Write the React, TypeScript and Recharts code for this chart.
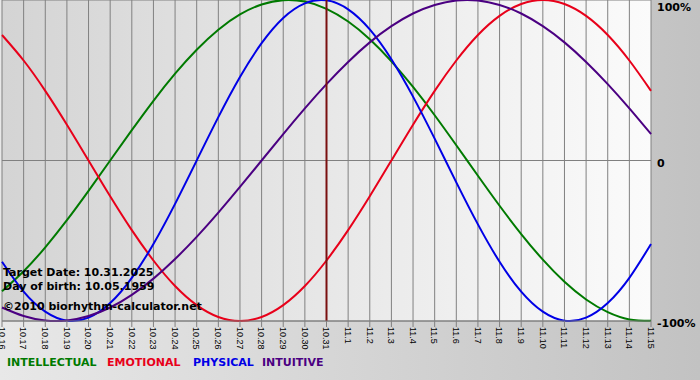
import React from 'react';
import { LineChart, Line, XAxis, YAxis, CartesianGrid, ReferenceLine } from 'recharts';

// days shown on the x axis (month.day)
const days = [
  '10.16', '10.17', '10.18', '10.19', '10.20', '10.21', '10.22', '10.23', '10.24', '10.25',
  '10.26', '10.27', '10.28', '10.29', '10.30', '10.31', '11.1', '11.2', '11.3', '11.4',
  '11.5', '11.6', '11.7', '11.8', '11.9', '11.10', '11.11', '11.12', '11.13', '11.14', '11.15',
];

// cycle values in %
const intellectual = [-81.5, -69.0, -54.1, -37.2, -18.9, 0, 18.9, 37.2, 54.1, 69.0, 81.5, 91.0, 97.2, 99.9, 99.0, 94.5, 86.6, 75.6, 61.8, 45.8, 28.2, 9.5, -9.5, -28.2, -45.8, -61.8, -75.6, -86.6, -94.5, -99.0, -99.9];
const emotional = [78.2, 62.3, 43.4, 22.3, 0, -22.3, -43.4, -62.3, -78.2, -90.1, -97.5, -100, -97.5, -90.1, -78.2, -62.3, -43.4, -22.3, 0, 22.3, 43.4, 62.3, 78.2, 90.1, 97.5, 100, 97.5, 90.1, 78.2, 62.3, 43.4];
const physical = [-63.1, -81.7, -94.2, -99.8, -97.9, -88.8, -73.1, -52.0, -27.0, 0, 27.0, 52.0, 73.1, 88.8, 97.9, 99.8, 94.2, 81.7, 63.1, 39.8, 13.6, -13.6, -39.8, -63.1, -81.7, -94.2, -99.8, -97.9, -88.8, -73.1, -52.0];
const intuitive = [-91.6, -96.9, -99.7, -99.7, -96.9, -91.6, -83.7, -73.6, -61.4, -47.6, -32.5, -16.5, 0, 16.5, 32.5, 47.6, 61.4, 73.6, 83.7, 91.6, 96.9, 99.7, 99.7, 96.9, 91.6, 83.7, 73.6, 61.4, 47.6, 32.5, 16.5];

const yTicks = [-100, 0, 100];
const targetDay = '10.31';

const COLORS = {
  intellectual: '#007a00',
  emotional: '#e8001a',
  physical: '#0000e6',
  intuitive: '#4b0082',
};

const series = [
  { key: 'intellectual', label: 'INTELLECTUAL', left: 7 },
  { key: 'emotional', label: 'EMOTIONAL', left: 107 },
  { key: 'physical', label: 'PHYSICAL', left: 193 },
  { key: 'intuitive', label: 'INTUITIVE', left: 262 },
] as const;

const data = days.map((d, i) => ({
  day: d,
  intellectual: intellectual[i],
  emotional: emotional[i],
  physical: physical[i],
  intuitive: intuitive[i],
}));

const FONT = '"DejaVu Sans", Verdana, sans-serif';

const XTick = ({ x, y, payload }: any) => (
  <text
    x={0}
    y={0}
    transform={`translate(${x},${y}) rotate(90)`}
    dy={3.2}
    textAnchor="start"
    fontSize={9}
    fontFamily='"Liberation Sans", Arial, sans-serif'
    fill="#000"
  >
    {payload.value}
  </text>
);

const YTick = ({ y, payload }: any) => {
  const v = payload.value;
  const label = v === 0 ? '0' : `${v}%`;
  return (
    <text x={657} y={v === 100 ? 11 : y + 6} fontSize={11} fontWeight="bold" fontFamily={FONT} fill="#000">
      {label}
    </text>
  );
};

const overlayStyle: React.CSSProperties = {
  position: 'absolute',
  left: 3,
  fontFamily: FONT,
  fontSize: 11,
  lineHeight: '11px',
  fontWeight: 'bold',
  color: '#000',
  whiteSpace: 'nowrap',
};

export default function App() {
  return (
    <div
      style={{
        position: 'absolute',
        left: 0,
        top: 0,
        width: 700,
        height: 380,
        overflow: 'hidden',
        background: 'linear-gradient(to right, #e8e8e8 0%, #c2c2c2 100%)',
      }}
    >
      <LineChart width={700} height={380} data={data} margin={{ top: 0, right: 0, left: 2, bottom: 0 }}>
        <defs>
          <linearGradient id="plotBg" x1="0" y1="0" x2="1" y2="0">
            <stop offset="0%" stopColor="#d4d4d4" />
            <stop offset="100%" stopColor="#fbfbfb" />
          </linearGradient>
        </defs>
        <CartesianGrid stroke="#808080" strokeWidth={1} fill="url(#plotBg)" fillOpacity={1} />
        <XAxis
          dataKey="day"
          interval={0}
          height={59}
          tick={<XTick />}
          tickSize={6}
          tickMargin={0}
          tickLine={{ stroke: '#808080' }}
          axisLine={{ stroke: '#808080' }}
        />
        <YAxis
          orientation="right"
          width={49}
          domain={[-100, 100]}
          ticks={yTicks}
          tick={<YTick />}
          tickLine={false}
          axisLine={false}
        />
        <Line type="natural" dataKey="intellectual" stroke={COLORS.intellectual} strokeWidth={2} dot={false} isAnimationActive={false} />
        <Line type="natural" dataKey="emotional" stroke={COLORS.emotional} strokeWidth={2} dot={false} isAnimationActive={false} />
        <Line type="natural" dataKey="physical" stroke={COLORS.physical} strokeWidth={2} dot={false} isAnimationActive={false} />
        <Line type="natural" dataKey="intuitive" stroke={COLORS.intuitive} strokeWidth={2} dot={false} isAnimationActive={false} />
        <ReferenceLine x={targetDay} stroke="#7a1010" strokeWidth={2} />
      </LineChart>

      <div style={{ ...overlayStyle, top: 267 }}>Target Date: 10.31.2025</div>
      <div style={{ ...overlayStyle, top: 281 }}>Day of birth: 10.05.1959</div>
      <div style={{ ...overlayStyle, top: 301 }}>©2010 biorhythm-calculator.net</div>

      {series.map((s) => (
        <span
          key={s.key}
          style={{
            position: 'absolute',
            top: 357,
            left: s.left,
            fontFamily: FONT,
            fontSize: 11,
            lineHeight: '11px',
            fontWeight: 'bold',
            color: COLORS[s.key],
            whiteSpace: 'nowrap',
          }}
        >
          {s.label}
        </span>
      ))}
    </div>
  );
}
